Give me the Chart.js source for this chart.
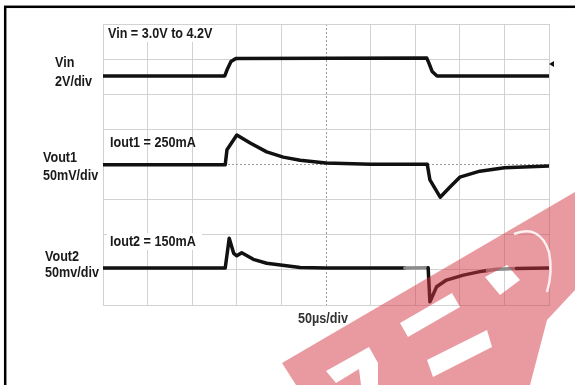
<!DOCTYPE html>
<html>
<head>
<meta charset="utf-8">
<script src="https://cdn.jsdelivr.net/npm/chart.js@4/dist/chart.umd.min.js"></script>
<style>
html, body { margin: 0; padding: 0; background: #fff; }
#wrap { position: relative; width: 575px; height: 385px; }
</style>
</head>
<body>
<div id="wrap"><canvas id="scope"></canvas></div>
<script>
// time in divisions (50us/div), amplitude in divisions (8 div screen)
var vinX = [0, 2.73, 2.79, 2.87, 2.98, 7.26, 7.31, 7.38, 7.49, 10];
var vinY = [6.52, 6.52, 6.72, 6.93, 7.02, 7.03, 6.88, 6.65, 6.52, 6.52];

var vout1X = [0, 2.74, 2.78, 3.0, 3.3, 3.67, 4.04, 4.42, 5.0, 6.0, 7.27, 7.33, 7.56, 7.78, 8.0, 8.45, 9.0, 10];
var vout1Y = [3.99, 3.99, 4.42, 4.84, 4.61, 4.36, 4.21, 4.12, 4.04, 4.01, 4.01, 3.56, 3.07, 3.36, 3.64, 3.81, 3.91, 3.96];

var vout2X = [0, 2.74, 2.83, 2.93, 3.0, 3.11, 3.37, 3.67, 4.42, 5.0, 6.77, 7.29, 7.33, 7.48, 7.70, 8.08, 8.45, 8.62, 8.83, 9.27, 10];
var vout2Y = [1.05, 1.05, 1.90, 1.47, 1.40, 1.49, 1.30, 1.19, 1.07, 1.05, 1.05, 1.06, 0.09, 0.52, 0.71, 0.85, 0.95, 0.98, 1.02, 1.04, 1.05];

var graySpans = [[6.77, 7.29], [8.62, 9.27]];

var labels = [
    { text: 'Vin = 3.0V to 4.2V', x: 108, y: 34, bg: [104, 25, 114, 17] },
    { text: 'Vin', x: 55, y: 63 },
    { text: '2V/div', x: 55, y: 82 },
    { text: 'Iout1 = 250mA', x: 110, y: 143 },
    { text: 'Vout1', x: 43, y: 158 },
    { text: '50mV/div', x: 43, y: 176 },
    { text: 'Iout2 = 150mA', x: 110, y: 242, bg: [107, 233, 95, 17] },
    { text: 'Vout2', x: 45, y: 257 },
    { text: '50mv/div', x: 45, y: 273 },
    { text: '50\u00b5s/div', x: 298, y: 319, color: '#333' }
];

function pts(xs, ys) {
    return xs.map(function (x, i) { return { x: x, y: ys[i] }; });
}

function inGray(x) {
    return graySpans.some(function (s) { return x >= s[0] && x < s[1]; });
}

var scopeDecor = {
    id: 'scopeDecor',
    beforeDraw: function (chart) {
        var c = chart.ctx;
        c.save();
        c.fillStyle = '#fff';
        c.fillRect(0, 0, chart.width, chart.height);
        // outer frame of the screenshot
        c.strokeStyle = '#000';
        c.lineWidth = 2.5;
        c.strokeRect(5.2, 6.8, 600, 400);
        c.restore();
    },
    afterDatasetsDraw: function (chart) {
        var c = chart.ctx;
        c.save();
        c.font = 'bold 14px "Liberation Sans", Arial, sans-serif';
        c.textBaseline = 'middle';
        labels.forEach(function (l) {
            if (l.bg) {
                c.fillStyle = '#fff';
                c.fillRect(l.bg[0], l.bg[1], l.bg[2], l.bg[3]);
            }
            c.save();
            c.translate(l.x, l.y);
            c.scale(0.9, 1);
            c.fillStyle = l.color || '#1a1a1a';
            c.fillText(l.text, 0, 0);
            c.restore();
        });
        // trigger marker
        c.fillStyle = '#111';
        c.beginPath();
        c.moveTo(549, 64);
        c.lineTo(554, 61);
        c.lineTo(554, 67);
        c.closePath();
        c.fill();
        c.restore();
    },
    afterDraw: function (chart) {
        // watermark
        var c = chart.ctx;
        c.save();
        c.beginPath();
        c.moveTo(282, 363); c.lineTo(575, 192); c.lineTo(575, 290);
        c.lineTo(547, 320); c.lineTo(530, 385); c.lineTo(296, 385); c.closePath();
        var holes = [
            [[326, 371], [369, 347], [378, 363], [378, 385], [361, 385], [359, 369], [336, 383]],
            [[400, 323], [452, 293], [460, 307], [408, 337]],
            [[427, 360], [487, 330], [492, 347], [433, 377]],
            [[485, 277], [507, 265], [520, 280], [500, 295]]
        ];
        holes.forEach(function (h) {
            c.moveTo(h[0][0], h[0][1]);
            for (var i = 1; i < h.length; i++) c.lineTo(h[i][0], h[i][1]);
            c.closePath();
        });
        c.fillStyle = 'rgba(212, 52, 66, 0.5)';
        c.fill('evenodd');
        c.strokeStyle = 'rgba(255,255,255,0.85)';
        c.lineWidth = 2.5;
        c.beginPath();
        c.moveTo(514, 234);
        c.quadraticCurveTo(540, 224, 549, 252);
        c.quadraticCurveTo(553, 272, 547, 292);
        c.stroke();
        c.restore();
    }
};

var axisCommon = {
    type: 'linear',
    min: 0,
    ticks: { display: false, stepSize: 1 },
    border: { display: true, color: '#d2d2d2', width: 1 },
    grid: { drawTicks: false, lineWidth: 1 }
};

var ctx = document.getElementById('scope').getContext('2d');
var scopeChart = new Chart(ctx, {
    type: 'line',
    data: {
        datasets: [
            { label: 'Vin', data: pts(vinX, vinY) },
            { label: 'Vout1', data: pts(vout1X, vout1Y) },
            {
                label: 'Vout2',
                data: pts(vout2X, vout2Y),
                segment: {
                    borderColor: function (s) { return inGray(s.p0.parsed.x) ? '#8c8c8c' : '#111'; }
                }
            }
        ]
    },
    options: {
        responsive: true,
        maintainAspectRatio: false,
        animation: false,
        layout: { padding: { left: 103, right: 26, top: 24, bottom: 80 } },
        elements: {
            line: { borderColor: '#111', borderWidth: 3.5, tension: 0, borderCapStyle: 'round', borderJoinStyle: 'round' },
            point: { radius: 0 }
        },
        plugins: { legend: { display: false }, tooltip: { enabled: false } },
        scales: {
            x: Object.assign({}, axisCommon, {
                max: 10,
                grid: {
                    drawTicks: false,
                    color: function (s) { return s.tick && s.tick.value === 5 ? '#9a9a9a' : '#d2d2d2'; }
                },
                border: {
                    display: true, color: '#d2d2d2',
                    dash: function (s) { return s.tick && s.tick.value === 5 ? [2, 2] : []; }
                }
            }),
            y: Object.assign({}, axisCommon, {
                max: 8,
                grid: {
                    drawTicks: false,
                    color: function (s) { return s.tick && s.tick.value === 4 ? '#9a9a9a' : '#d2d2d2'; }
                },
                border: {
                    display: true, color: '#d2d2d2',
                    dash: function (s) { return s.tick && s.tick.value === 4 ? [2, 2] : []; }
                }
            })
        }
    },
    plugins: [scopeDecor]
});
</script>
</body>
</html>
